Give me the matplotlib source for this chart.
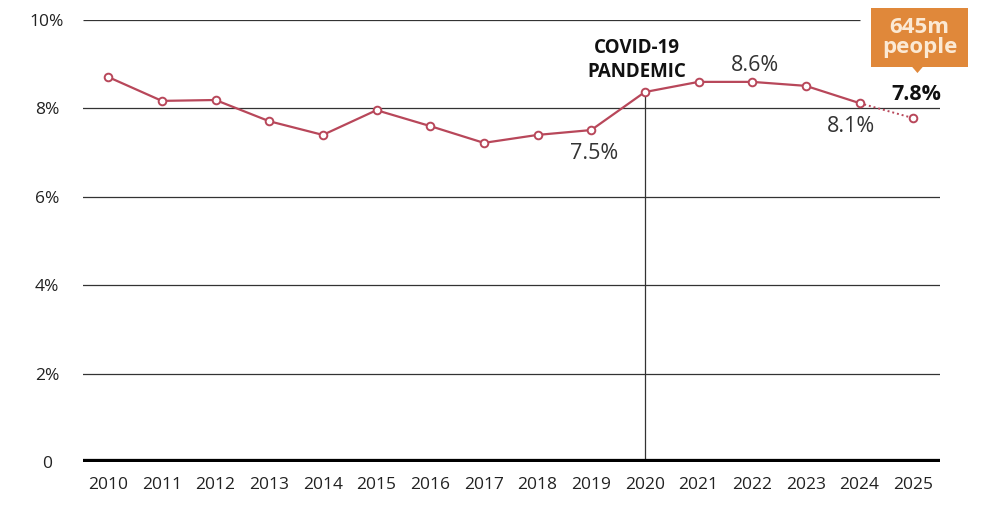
import matplotlib.pyplot as plt
from matplotlib.patches import Polygon, FancyBboxPatch

years = [2010, 2011, 2012, 2013, 2014, 2015, 2016, 2017,
         2018, 2019, 2020, 2021, 2022, 2023, 2024, 2025]
share = [8.71, 8.17, 8.19, 7.71, 7.40, 7.96, 7.60, 7.22,
         7.40, 7.51, 8.37, 8.60, 8.60, 8.51, 8.12, 7.78]
yticks = [0, 2, 4, 6, 8, 10]
ytick_labels = ['0', '2%', '4%', '6%', '8%', '10%']

LINE = '#b8475a'
ORANGE = '#e0883a'

plt.rcParams['font.family'] = ['Open Sans', 'DejaVu Sans']

fig = plt.figure(figsize=(9.86, 5.19), dpi=100)
ax = fig.add_axes([83 / 986, 57 / 519, 857 / 986, 442 / 519])
ax.set_xlim(2009.53, 2025.5)
ax.set_ylim(0, 10)

for s in ax.spines.values():
    s.set_visible(False)

# gridlines
for v in yticks[1:-1]:
    ax.axhline(v, color='#333333', lw=0.9, zorder=1)
ax.hlines(10, 2009.53, 2024.01, color='#333333', lw=0.9, zorder=1)
ax.axhline(0, color='black', lw=4.5, zorder=3)

# covid marker line
ax.vlines(2020, 0, share[10], color='#333333', lw=0.9, zorder=1)

# main line (solid to 2024, dotted to 2025)
ax.plot(years[:-1], share[:-1], color=LINE, lw=1.6, zorder=4)
ax.plot(years[-2:], share[-2:], color=LINE, lw=1.4, ls=(0, (1, 1.5)), zorder=4)
ax.plot(years, share, ls='none', marker='o', ms=5.5, mfc='white',
        mec=LINE, mew=1.4, zorder=5)

ax.set_xticks(years)
ax.set_xticklabels([str(y) for y in years], fontsize=12.5, color='#222222')
ax.set_yticks(yticks)
ax.set_yticklabels(ytick_labels, fontsize=12.5, color='#222222', ha='center')
ax.tick_params(axis='x', length=0, pad=11)
ax.tick_params(axis='y', length=0, pad=26)

# annotations
ax.text(2019.05, 6.98, '7.5%', fontsize=15.5, ha='center', va='center', color='#333333')
ax.text(2022.05, 8.98, '8.6%', fontsize=15.5, ha='center', va='center', color='#333333')
ax.text(2023.85, 7.6, '8.1%', fontsize=15.5, ha='center', va='center', color='#333333')
ax.text(2025.05, 8.32, '7.8%', fontsize=15.5, ha='center', va='center',
        color='#111111', fontweight='bold')
ax.text(2019.85, 9.09, 'COVID-19\nPANDEMIC', fontsize=13.5, ha='center', va='center',
        color='#111111', fontweight='bold', linespacing=1.25)

# callout box
box = FancyBboxPatch((2024.22, 8.93), 1.80, 1.34, boxstyle='square,pad=0',
                     fc=ORANGE, ec='none', clip_on=False, zorder=6)
ax.add_patch(box)
ax.add_patch(Polygon([[2024.98, 8.94], [2025.18, 8.94], [2025.08, 8.80]],
                     closed=True, fc=ORANGE, ec='none', clip_on=False, zorder=6))
ax.text(2025.12, 9.6, '645m\npeople', fontsize=16, ha='center', va='center',
        color='#fbe9d4', fontweight='bold', linespacing=0.9, zorder=7)

fig.savefig('out.png', dpi=100)
